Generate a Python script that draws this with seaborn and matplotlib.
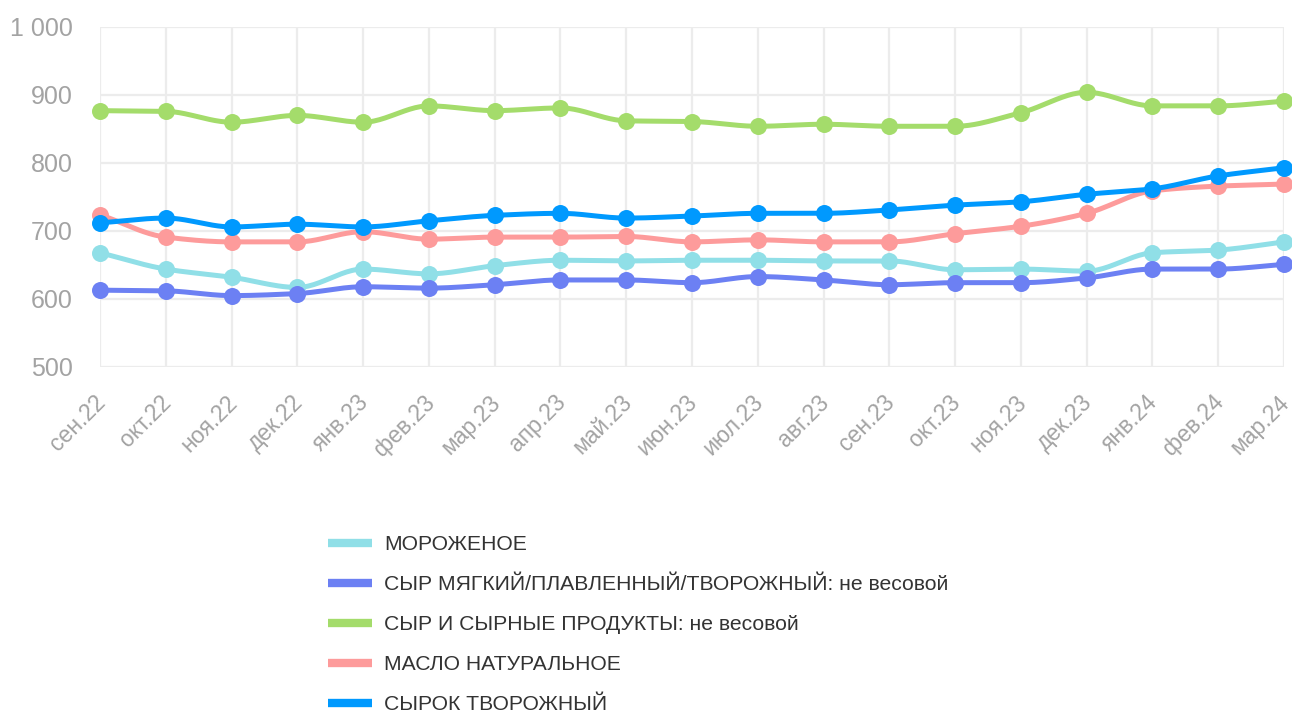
import numpy as np
import pandas as pd
import matplotlib
matplotlib.use("Agg")
import matplotlib.pyplot as plt
import matplotlib.transforms as mtransforms
from matplotlib.lines import Line2D
from matplotlib.ticker import FuncFormatter, FixedLocator
import seaborn as sns

months = ["сен.22", "окт.22", "ноя.22", "дек.22", "янв.23", "фев.23", "мар.23",
          "апр.23", "май.23", "июн.23", "июл.23", "авг.23", "сен.23", "окт.23",
          "ноя.23", "дек.23", "янв.24", "фев.24", "мар.24"]

ice_cream = [668, 644, 632, 617, 644, 637, 649, 657, 656, 657, 657, 656, 656,
             643, 644, 641, 668, 672, 684]
soft_cheese = [613, 612, 605, 608, 618, 616, 621, 628, 628, 624, 633, 628, 621,
               624, 624, 631, 644, 644, 651]
cheese_products = [877, 876, 860, 870, 860, 884, 877, 881, 862, 861, 854, 857,
                   854, 854, 874, 904, 884, 884, 891]
butter = [724, 691, 684, 684, 699, 688, 691, 691, 692, 684, 687, 684, 684,
          696, 707, 726, 759, 766, 769]
curd_snack = [712, 719, 706, 710, 706, 715, 723, 726, 719, 722, 726, 726, 731,
              738, 743, 754, 762, 781, 793]

series_names = ["МОРОЖЕНОЕ",
                "СЫР МЯГКИЙ/ПЛАВЛЕННЫЙ/ТВОРОЖНЫЙ: не весовой",
                "СЫР И СЫРНЫЕ ПРОДУКТЫ: не весовой",
                "МАСЛО НАТУРАЛЬНОЕ",
                "СЫРОК ТВОРОЖНЫЙ"]
series_values = [ice_cream, soft_cheese, cheese_products, butter, curd_snack]
colors = ["#90dfe7", "#6c80f3", "#a4dc6b", "#fd9b9b", "#0099fe"]

y_ticks = [500, 600, 700, 800, 900, 1000]


def monotone_curve(y, steps=24):
    """Monotone cubic Hermite interpolation (Fritsch–Carlson) on unit spacing."""
    y = np.asarray(y, dtype=float)
    n = len(y)
    d = np.diff(y)
    m = np.zeros(n)
    m[0], m[-1] = d[0], d[-1]
    for i in range(1, n - 1):
        if d[i - 1] * d[i] <= 0:
            m[i] = 0.0
        else:
            m[i] = 2.0 / (1.0 / d[i - 1] + 1.0 / d[i])
    xs, ys = [], []
    for i in range(n - 1):
        t = np.linspace(0, 1, steps, endpoint=False)
        h00 = 2 * t**3 - 3 * t**2 + 1
        h10 = t**3 - 2 * t**2 + t
        h01 = -2 * t**3 + 3 * t**2
        h11 = t**3 - t**2
        xs.append(i + t)
        ys.append(h00 * y[i] + h10 * m[i] + h01 * y[i + 1] + h11 * m[i + 1])
    xs.append(np.array([n - 1.0]))
    ys.append(np.array([y[-1]]))
    return np.concatenate(xs), np.concatenate(ys)


points = pd.DataFrame({
    "x": np.tile(np.arange(len(months)), len(series_names)),
    "value": np.concatenate(series_values),
    "series": np.repeat(series_names, len(months)),
})

curves = []
for name, vals in zip(series_names, series_values):
    cx, cy = monotone_curve(vals)
    curves.append(pd.DataFrame({"x": cx, "value": cy, "series": name}))
curves = pd.concat(curves, ignore_index=True)

sns.set_style("white")
plt.rcParams["font.family"] = ["Liberation Sans", "DejaVu Sans"]

fig = plt.figure(figsize=(12.92, 7.13), dpi=100)
W, H = 1292, 713
ax = fig.add_axes([100 / W, 1 - 367 / H, (1284 - 100) / W, (367 - 27) / H])

palette = dict(zip(series_names, colors))
for name in series_names:
    sub_c = curves[curves["series"] == name]
    sub_p = points[points["series"] == name]
    sns.lineplot(data=sub_c, x="x", y="value", color=palette[name], lw=3.6,
                 ax=ax, legend=False, clip_on=False, sort=False,
                 solid_capstyle="round", estimator=None)
    sns.scatterplot(data=sub_p, x="x", y="value", color=palette[name], s=150,
                    linewidth=0, ax=ax, legend=False, clip_on=False, zorder=3)

ax.set_xlim(0, len(months) - 1)
ax.set_ylim(500, 1000)
ax.xaxis.set_major_locator(FixedLocator(range(len(months))))
ax.set_xticklabels(months)
ax.yaxis.set_major_locator(FixedLocator(y_ticks))
ax.yaxis.set_major_formatter(FuncFormatter(lambda v, p: f"{int(v):,}".replace(",", " ")))
ax.grid(True, color="#ececec", lw=1.6)
ax.set_axisbelow(True)
for s in ax.spines.values():
    s.set_visible(False)
ax.set_xlabel("")
ax.set_ylabel("")
ax.tick_params(axis="y", length=0, pad=19.5, labelsize=18, labelcolor="#a3a3a3")
ax.tick_params(axis="x", length=0, pad=23, labelsize=16.5, labelcolor="#a3a3a3")
shift = mtransforms.ScaledTranslation(2 / 100, 0, fig.dpi_scale_trans)
for lbl in ax.get_xticklabels():
    lbl.set_rotation(45)
    lbl.set_ha("right")
    lbl.set_va("center")
    lbl.set_rotation_mode("anchor")
    lbl.set_transform(lbl.get_transform() + shift)

handles = [Line2D([0], [0], color=c, lw=6, solid_capstyle="butt") for c in colors]
fig.legend(handles, series_names, loc="upper left",
           bbox_to_anchor=(320 / W, 1 - 527 / H), frameon=False,
           fontsize=15.2, labelcolor="#333333", handlelength=2.05,
           handletextpad=0.58, labelspacing=0.99, borderaxespad=0)

fig.savefig("out.png", dpi=100, facecolor="white")
